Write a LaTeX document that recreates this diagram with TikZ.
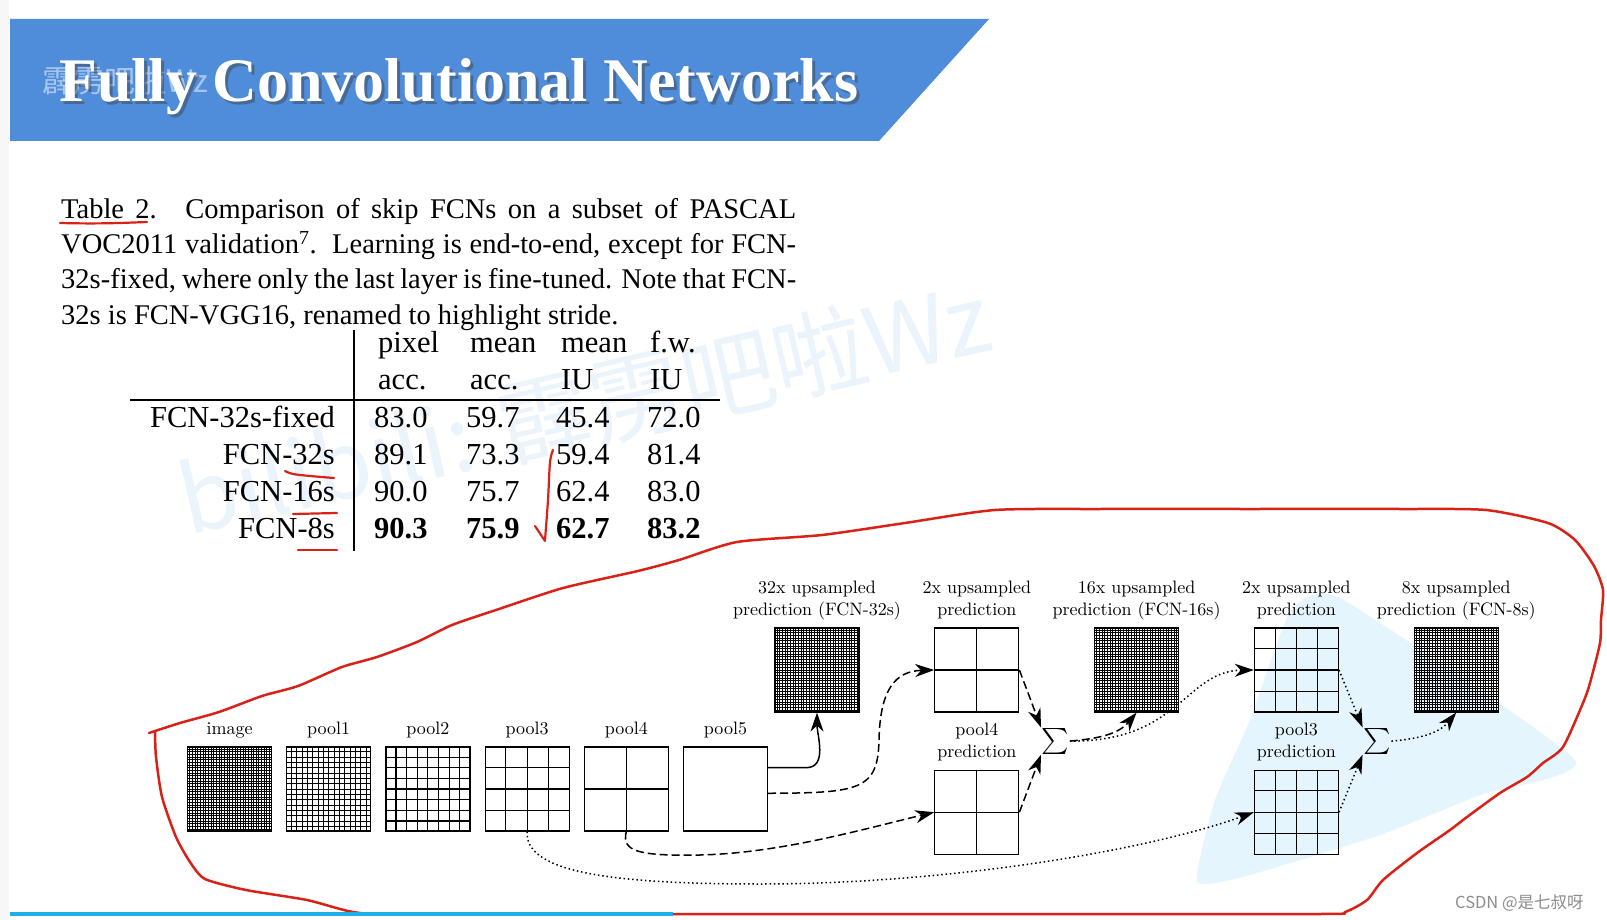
\documentclass[tikz,border=0pt]{standalone}
\usepackage{fontspec}
\usepackage{graphicx}
\usepackage{tikz}
\usetikzlibrary{positioning,arrows.meta,calc}
\newfontfamily\tnr{Liberation Serif}
\newfontfamily\cjk{Noto Sans CJK SC}
\newfontfamily\cmten{lmroman10-regular.otf}
\definecolor{bannerblue}{RGB}{79,140,217}
\definecolor{penred}{RGB}{216,34,24}
\definecolor{barblue}{RGB}{30,174,232}
\definecolor{wmblue}{RGB}{235,243,251}
\definecolor{blobblue}{RGB}{229,245,253}

\begin{document}
\begin{tikzpicture}[
  x=1pt, y=1pt,
  node distance=14pt and 14pt,
  box/.style={draw, line width=1.2pt, minimum size=84pt, inner sep=0pt},
  lbl/.style={font=\cmten\fontsize{18}{22}\selectfont, align=center, inner sep=0pt},
  title/.style={font=\tnr\bfseries\fontsize{62}{70}\selectfont, anchor=base west, inner sep=0pt},
  capt/.style={font=\tnr\fontsize{28.5}{35.3}\selectfont, align=left, anchor=north west, inner sep=0pt},
  tbl/.style={font=\tnr\fontsize{30.5}{36}\selectfont, inner sep=0pt, anchor=base west},
  pen/.style={draw=penred, line width=2.2pt, line cap=round, line join=round},
  arr/.style={-{Stealth[length=19pt,width=13pt,inset=6pt]}, line width=1.5pt},
  dsh/.style={arr, dash pattern=on 8pt off 4pt},
  dot/.style={arr, dash pattern=on 1.5pt off 2.8pt}
]
\useasboundingbox (0,0) rectangle (1607,-920);
\fill[black!3] (0,0) rectangle (9,-920);

% banner
\fill[bannerblue] (10,-19) -- (989,-19) -- (879,-141) -- (10,-141) -- cycle;
\node[font=\cjk\fontsize{31}{31}\selectfont, text=white, opacity=.5, anchor=west, inner sep=0pt] (WmTop) at (42,-81) {霹雳吧啦Wz};
\node[title, text=black!75, opacity=.45] (TitleSh) at (62,-105) {Fully Convolutional Networks};
\node[title, text=white] (Title) at (59,-102) {Fully Convolutional Networks};

% faint watermarks
\node[font=\cjk\fontsize{94}{94}\selectfont, text=wmblue, rotate=13, anchor=base west, inner sep=0pt] (Wm) at (188,-536) {bilibili: 霹雳吧啦Wz};
\fill[blobblue] plot[smooth cycle, tension=.3] coordinates {(1197,-882) (1215,-800) (1250,-720) (1290,-612) (1340,-598) (1575,-760) (1480,-795) (1380,-835) (1250,-875)};

% caption
\node[capt] (Cap) at (61,-198) {\makebox[735pt][s]{Table 2.\quad Comparison of skip FCNs on a subset of PASCAL}\\
  \makebox[735pt][s]{VOC2011 validation\textsuperscript{7}.\ \ Learning is end-to-end, except for FCN-}\\
  \makebox[735pt][s]{32s-fixed, where only the last layer is fine-tuned. Note that FCN-}\\
  32s is FCN-VGG16, renamed to highlight stride.};

% table
\draw[line width=1.3pt] (354,-330) -- (354,-551);
\draw[line width=1.3pt] (130,-400) -- (720,-400);
\foreach \x/\t/\u [count=\c] in {378/pixel/acc., 470/mean/acc., 561/mean/IU, 650/f.w./IU} {
  \node[tbl] (H\c-a) at (\x,-352) {\t};
  \node[tbl] (H\c-b) at (\x,-389) {\u};
}
\foreach \lab/\va/\vb/\vc/\vd/\y [count=\r] in {FCN-32s-fixed/83.0/59.7/45.4/72.0/427, FCN-32s/89.1/73.3/59.4/81.4/464, FCN-16s/90.0/75.7/62.4/83.0/501, FCN-8s/\textbf{90.3}/\textbf{75.9}/\textbf{62.7}/\textbf{83.2}/538} {
  \node[tbl, anchor=base east] (R\r) at (335,-\y) {\lab};
  \node[tbl] (R\r-a) at (374,-\y) {\va};
  \node[tbl] (R\r-b) at (466,-\y) {\vb};
  \node[tbl] (R\r-c) at (556,-\y) {\vc};
  \node[tbl] (R\r-d) at (647,-\y) {\vd};
}

% network
\node[box] (Img) at (229.5,-789) {};
\node[box, right=of Img] (Pool1) {};
\node[box, right=of Pool1] (Pool2) {};
\node[box, right=of Pool2] (Pool3) {};
\node[box, right=of Pool3] (Pool4) {};
\node[box, right=of Pool4] (Pool5) {};

\node[box] (Up32) at (817,-670) {};
\node[box, right=74.6pt of Up32] (Up2a) {};
\node[box, right=74.6pt of Up2a] (Up16) {};
\node[box, right=74.6pt of Up16] (Up2b) {};
\node[box, right=74.6pt of Up2b] (Up8) {};
\node[box, below=57pt of Up2a] (Pred4) {};
\node[box, below=57pt of Up2b] (Pred3) {};

\foreach \b/\k in {Img/32,Pool1/16,Pool2/8,Pool3/4,Pool4/2,Up32/32,Up2a/2,Up16/32,Up2b/4,Up8/32,Pred4/2,Pred3/4} {
  \pgfmathtruncatemacro\kk{\k-1}
  \pgfmathsetmacro\lw{\k>16 ? 0.6 : (\k>8 ? 0.85 : 1.1)}
  \foreach \i in {1,...,\kk} {
    \draw[line width=\lw pt] ($(\b.north west)!\i/\k!(\b.north east)$) -- ($(\b.south west)!\i/\k!(\b.south east)$);
    \draw[line width=\lw pt] ($(\b.north west)!\i/\k!(\b.south west)$) -- ($(\b.north east)!\i/\k!(\b.south east)$);
  }
}

\node[lbl, above=8pt of Img] (ImgL) {image};
\node[lbl, above=8pt of Pool1] (Pool1L) {pool1};
\node[lbl, above=8pt of Pool2] (Pool2L) {pool2};
\node[lbl, above=8pt of Pool3] (Pool3L) {pool3};
\node[lbl, above=8pt of Pool4] (Pool4L) {pool4};
\node[lbl, above=8pt of Pool5] (Pool5L) {pool5};
\node[lbl, above=7pt of Up32] (Up32L) {32x upsampled\\prediction (FCN-32s)};
\node[lbl, above=8pt of Up2a] (Up2aL) {2x upsampled\\prediction};
\node[lbl, above=7pt of Up16] (Up16L) {16x upsampled\\prediction (FCN-16s)};
\node[lbl, above=8pt of Up2b] (Up2bL) {2x upsampled\\prediction};
\node[lbl, above=7pt of Up8] (Up8L) {8x upsampled\\prediction (FCN-8s)};
\node[lbl, above=8pt of Pred4] (Pred4L) {pool4\\prediction};
\node[lbl, above=8pt of Pred3] (Pred3L) {pool3\\prediction};

\node[inner sep=0.5pt] (Sum1) at ($(Up2a.east)!.5!(Pred4.east)+(36,0)$) {\scalebox{2.6}{$\sum$}};
\node[inner sep=0.5pt] (Sum2) at ($(Up2b.east)!.5!(Pred3.east)+(38,0)$) {\scalebox{2.6}{$\sum$}};

\draw[arr] ($(Pool5.north east)!.25!(Pool5.south east)$) -- ++(38,0) to[out=0,in=-90] (Up32.south);
\draw[dsh] ($(Pool5.north east)!.55!(Pool5.south east)$) .. controls (860,-793) and (878,-790) .. (879,-740) .. controls (880,-690) and (895,-671) .. (Up2a.west);
\draw[dsh] (Pool4.south) .. controls (621,-852) and (640,-856) .. (700,-855) .. controls (780,-853) and (860,-830) .. (Pred4.west);
\draw[dot] (Pool3.south) .. controls (525,-870) and (600,-884) .. (760,-884) .. controls (950,-884) and (1150,-850) .. (Pred3.west);
\draw[dsh] (Up2a.east) -- (Sum1.north west);
\draw[dsh] (Pred4.east) -- (Sum1.south west);
\draw[dsh] (Sum1.east) to[out=5,in=-130] (Up16.south);
\draw[dot] (Sum1.east) .. controls (1180,-742) and (1185,-671) .. (Up2b.west);
\draw[dot] (Up2b.east) -- (Sum2.north west);
\draw[dot] (Pred3.east) -- (Sum2.south west);
\draw[dot] (Sum2.east) to[out=5,in=-130] (Up8.south);

% red pen marks
\draw[pen] (60,-223) .. controls (100,-224) and (120,-223) .. (147,-222);
\draw[pen] plot[smooth] coordinates {(285,-471) (293,-474) (310,-476) (334,-478)};
\draw[pen] (293,-514) -- (337,-513);
\draw[pen] (298,-550) -- (337,-550);
\draw[pen] plot[smooth] coordinates {(553,-450) (550,-462) (548,-500) (545,-540)};
\draw[pen] (535,-526) -- (545,-541);
\draw[pen, line width=2.5pt] plot[smooth, tension=.4] coordinates {(149,-733) (180,-723) (219,-712) (262,-696) (298,-686) (342,-667) (377,-657) (417,-642) (452,-625) (496,-610) (563,-588) (638,-571) (679,-560) (737,-542) (822,-535) (905,-523) (995,-510) (1100,-509) (1250,-509) (1400,-509) (1486,-510) (1548,-523) (1575,-540) (1594,-566) (1603,-590) (1601,-620) (1600,-643) (1590,-683) (1583,-703) (1563,-747) (1543,-763) (1527,-777) (1500,-793) (1467,-817) (1450,-830) (1417,-853) (1383,-880) (1367,-900) (1345,-912) (1320,-914) (1000,-914) (700,-914) (400,-914) (353,-912) (307,-900) (246,-890) (205,-879) (190,-862) (176,-837) (162,-797) (156,-757) (155,-732)};

% bottom bar and credit
\draw[barblue, line width=4pt] (10,-914) -- (673,-914);
\node[font=\cjk\fontsize{16.5}{17}\selectfont, text=black!45, anchor=base west, inner sep=0pt] (Csdn) at (1455,-908) {CSDN @是七叔呀};
\end{tikzpicture}
\end{document}
